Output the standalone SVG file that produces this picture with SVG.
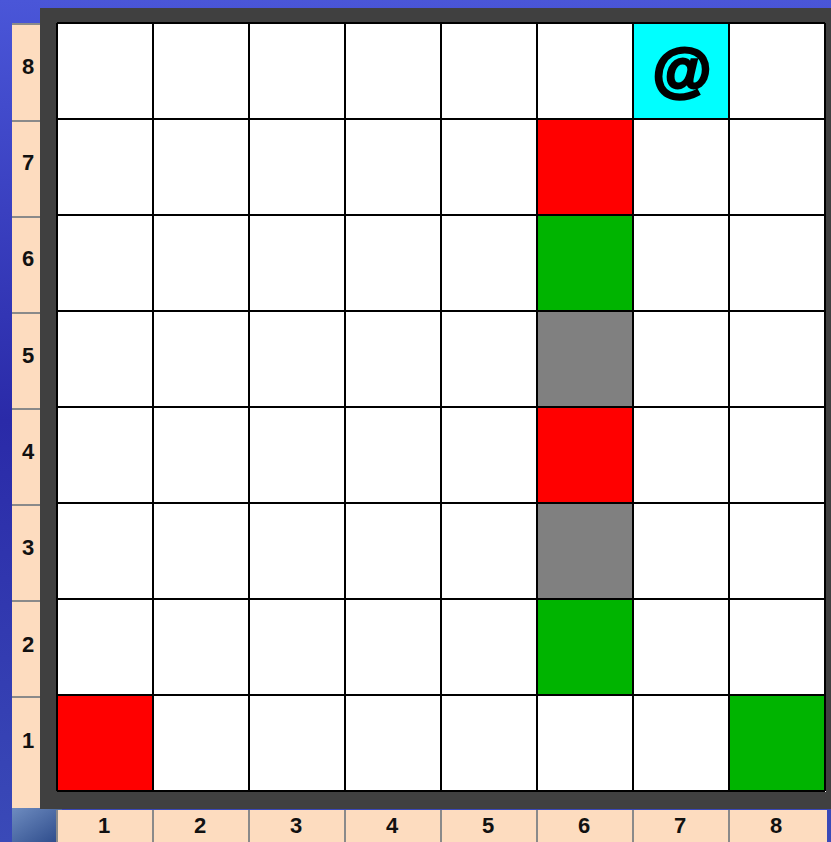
<svg xmlns="http://www.w3.org/2000/svg" width="831" height="842" viewBox="0 0 831 842">
<defs>
<linearGradient id="bg" x1="0" y1="0" x2="0" y2="1">
<stop offset="0" stop-color="#4a56d8"/>
<stop offset="0.5" stop-color="#2a2aa8"/>
<stop offset="1" stop-color="#3a4ab8"/>
</linearGradient>
<linearGradient id="sky" x1="0" y1="0" x2="1" y2="1">
<stop offset="0" stop-color="#6e8cc0"/>
<stop offset="1" stop-color="#2c4a8a"/>
</linearGradient>
<style>
.lbl{fill:#fddcbf}
.sep{stroke:#8a8a8a;stroke-width:2}
.t{font-family:"Liberation Sans",Arial,sans-serif;font-weight:bold;font-size:22px;fill:#111111;text-anchor:middle}
</style>
</defs>
<rect x="0" y="0" width="831" height="842" fill="url(#bg)"/>
<rect x="12" y="808" width="50" height="34" fill="url(#sky)"/>
<g id="frame">
<rect x="40" y="8" width="791" height="801" fill="#404040"/>
</g>
<g id="row-labels">
<rect class="lbl" x="12" y="24" width="28" height="784"/>
<line class="sep" x1="12" y1="24" x2="40" y2="24"/>
<line class="sep" x1="12" y1="121" x2="40" y2="121"/>
<line class="sep" x1="12" y1="217" x2="40" y2="217"/>
<line class="sep" x1="12" y1="313" x2="40" y2="313"/>
<line class="sep" x1="12" y1="409" x2="40" y2="409"/>
<line class="sep" x1="12" y1="505" x2="40" y2="505"/>
<line class="sep" x1="12" y1="601" x2="40" y2="601"/>
<line class="sep" x1="12" y1="697" x2="40" y2="697"/>
<text class="t" x="28" y="74">8</text>
<text class="t" x="28" y="170">7</text>
<text class="t" x="28" y="266">6</text>
<text class="t" x="28" y="363">5</text>
<text class="t" x="28" y="459">4</text>
<text class="t" x="28" y="555">3</text>
<text class="t" x="28" y="652">2</text>
<text class="t" x="28" y="748">1</text>
</g>
<g id="col-labels">
<rect class="lbl" x="57" y="810" width="770" height="32"/>
<line class="sep" x1="57" y1="810" x2="57" y2="842"/>
<line class="sep" x1="153" y1="810" x2="153" y2="842"/>
<line class="sep" x1="249" y1="810" x2="249" y2="842"/>
<line class="sep" x1="345" y1="810" x2="345" y2="842"/>
<line class="sep" x1="441" y1="810" x2="441" y2="842"/>
<line class="sep" x1="537" y1="810" x2="537" y2="842"/>
<line class="sep" x1="633" y1="810" x2="633" y2="842"/>
<line class="sep" x1="729" y1="810" x2="729" y2="842"/>
<text class="t" x="104" y="833">1</text>
<text class="t" x="200" y="833">2</text>
<text class="t" x="296" y="833">3</text>
<text class="t" x="392" y="833">4</text>
<text class="t" x="488" y="833">5</text>
<text class="t" x="584" y="833">6</text>
<text class="t" x="680" y="833">7</text>
<text class="t" x="776" y="833">8</text>
</g>
<g id="grid">
<rect x="57" y="23" width="769" height="769" fill="#ffffff"/>
<rect x="537" y="119" width="96" height="96" fill="#ff0000"/>
<rect x="537" y="215" width="96" height="96" fill="#00b400"/>
<rect x="537" y="311" width="96" height="96" fill="#808080"/>
<rect x="537" y="407" width="96" height="96" fill="#ff0000"/>
<rect x="537" y="503" width="96" height="96" fill="#808080"/>
<rect x="537" y="599" width="96" height="96" fill="#00b400"/>
<rect x="57" y="695" width="96" height="96" fill="#ff0000"/>
<rect x="729" y="695" width="96" height="96" fill="#00b400"/>
<rect x="633" y="23" width="96" height="96" fill="#00ffff"/>
<g stroke="#000000" stroke-width="2">
<line x1="57" y1="23" x2="825" y2="23"/>
<line x1="57" y1="119" x2="825" y2="119"/>
<line x1="57" y1="215" x2="825" y2="215"/>
<line x1="57" y1="311" x2="825" y2="311"/>
<line x1="57" y1="407" x2="825" y2="407"/>
<line x1="57" y1="503" x2="825" y2="503"/>
<line x1="57" y1="599" x2="825" y2="599"/>
<line x1="57" y1="695" x2="825" y2="695"/>
<line x1="57" y1="791" x2="825" y2="791"/>
<line x1="57" y1="23" x2="57" y2="791"/>
<line x1="153" y1="23" x2="153" y2="791"/>
<line x1="249" y1="23" x2="249" y2="791"/>
<line x1="345" y1="23" x2="345" y2="791"/>
<line x1="441" y1="23" x2="441" y2="791"/>
<line x1="537" y1="23" x2="537" y2="791"/>
<line x1="633" y1="23" x2="633" y2="791"/>
<line x1="729" y1="23" x2="729" y2="791"/>
<line x1="825" y1="23" x2="825" y2="791"/>
</g>
<text x="682" y="90" font-family="'Liberation Sans',Arial,sans-serif" font-weight="bold" font-size="60" fill="#000000" stroke="#000000" stroke-width="3" text-anchor="middle">@</text>
</g>
</svg>
